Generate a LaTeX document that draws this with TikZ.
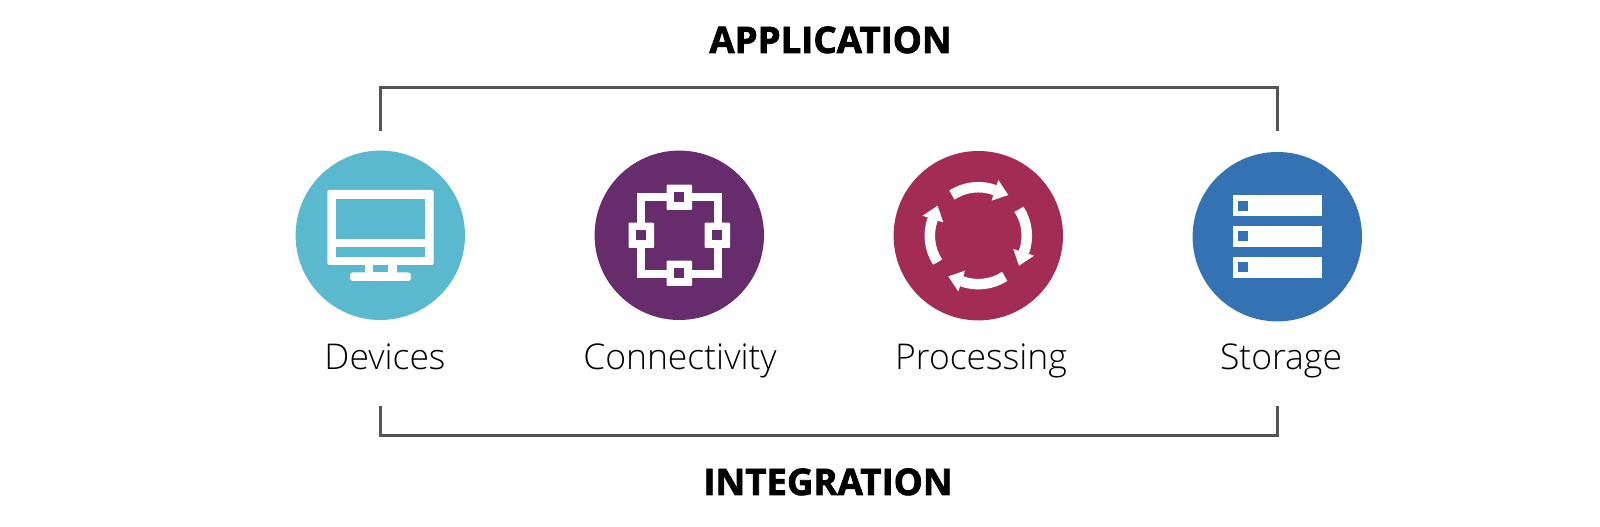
\documentclass[tikz,border=0pt]{standalone}
\usepackage{fontspec}
\setmainfont{Open Sans}
\newfontfamily\lightfont{Open Sans}[UprightFont=* Light]
\newfontfamily\heavyfont{Open Sans}[UprightFont=* Bold,UprightFeatures={FakeBold=2}]
\definecolor{devicecol}{HTML}{5AB9CE}
\definecolor{connectcol}{HTML}{672C6B}
\definecolor{processcol}{HTML}{A32C54}
\definecolor{storagecol}{HTML}{3572B3}
\definecolor{bracketcol}{HTML}{555555}
\tikzset{
  {disc/.style} ={circle,fill=#1,inner sep=0,minimum size=169.4pt},
  {caption/.style} ={anchor=base,font=\lightfont\fontsize{35.5}{36}\selectfont},
  {heading/.style} ={anchor=base,font=\heavyfont\fontsize{36.6}{37}\selectfont},
  {bracket/.style} ={draw=bracketcol,line width=3pt},
  {icon/.style} ={fill=white,draw=none},
}
\begin{document}
\begin{tikzpicture}[x=1pt,y=1pt]
    \useasboundingbox (0,0) rectangle (1600,527);
    \node[disc=devicecol] (devices) at (380.3,291.7) {};
    \node[disc=connectcol] (connect) at (679.3,291.7) {};
    \node[disc=processcol] (process) at (978.3,291.3) {};
    \node[disc=storagecol] (storage) at (1277.3,290.3) {};
    \node[caption] (devlabel) at (385,157) {Devices};
    \node[caption] (conlabel) at (680,157) {Connectivity};
    \node[caption] (prolabel) at (981,157) {Processing};
    \node[caption] (stolabel) at (1281,157) {Storage};
    \node[heading] (application) at (830.5,474) {APPLICATION};
    \node[heading] (integration) at (828,32) {INTEGRATION};
    \coordinate (topleft) at (380.6,396);
    \coordinate (topright) at (1277,396);
    \coordinate (botleft) at (380.6,121);
    \coordinate (botright) at (1277,121);
    \draw[bracket] (topleft) |- (800,439.3) -| (topright);
    \draw[bracket] (botleft) |- (800,91) -| (botright);
    % monitor
    \begin{scope}[shift={(devices.center)}]
      \fill[icon,rounded corners=2pt] (-53,-29.7) rectangle (53.4,45.3);
      \fill[devicecol] (-44.6,-3.7) rectangle (45,36.6);
      \fill[devicecol] (-44.6,-21.4) rectangle (45,-12);
      \fill[icon] (-15.6,-37.4) rectangle (16.4,-29.7);
      \fill[devicecol] (-7.3,-37) rectangle (8,-29.7);
      \fill[icon,rounded corners=3pt] (-30.3,-45.7) rectangle (30.7,-37);
    \end{scope}
    % ring of ports
    \begin{scope}[shift={(connect.center)}]
      \draw[white,line width=7.5pt] (-38.5,-38.5) rectangle (38.5,38.5);
      \foreach \px/\py in {0/38,0/-38,-38/0,38/0} {
        \fill[icon,rounded corners=1pt,shift={(\px,\py)}] (-12.7,-12.7) rectangle (12.7,12.7);
        \fill[connectcol,shift={(\px,\py)}] (-4.9,-4.9) rectangle (4.9,4.9);
      }
    \end{scope}
    % cycle arrows
    \begin{scope}[shift={(process.center)}]
      \foreach \turn in {0,-90,-180,-270} {
        \begin{scope}[rotate=\turn]
          \draw[white,line width=10.5pt] (123:48.5) arc (123:70:48.5);
          \fill[icon] (20,55.7) -- (30,40.7) -- (13.3,35) -- (17,47) -- cycle;
        \end{scope}
      }
    \end{scope}
    % storage racks
    \begin{scope}[shift={(storage.center)}]
      \foreach \py in {30.7,0.2,-30.6} {
        \fill[icon,shift={(0,\py)}] (-44.6,-10.5) rectangle (44.4,10.5);
        \fill[storagecol,shift={(0,\py)}] (-39.6,-5) rectangle (-29.6,5);
      }
    \end{scope}
\end{tikzpicture}
\end{document}
